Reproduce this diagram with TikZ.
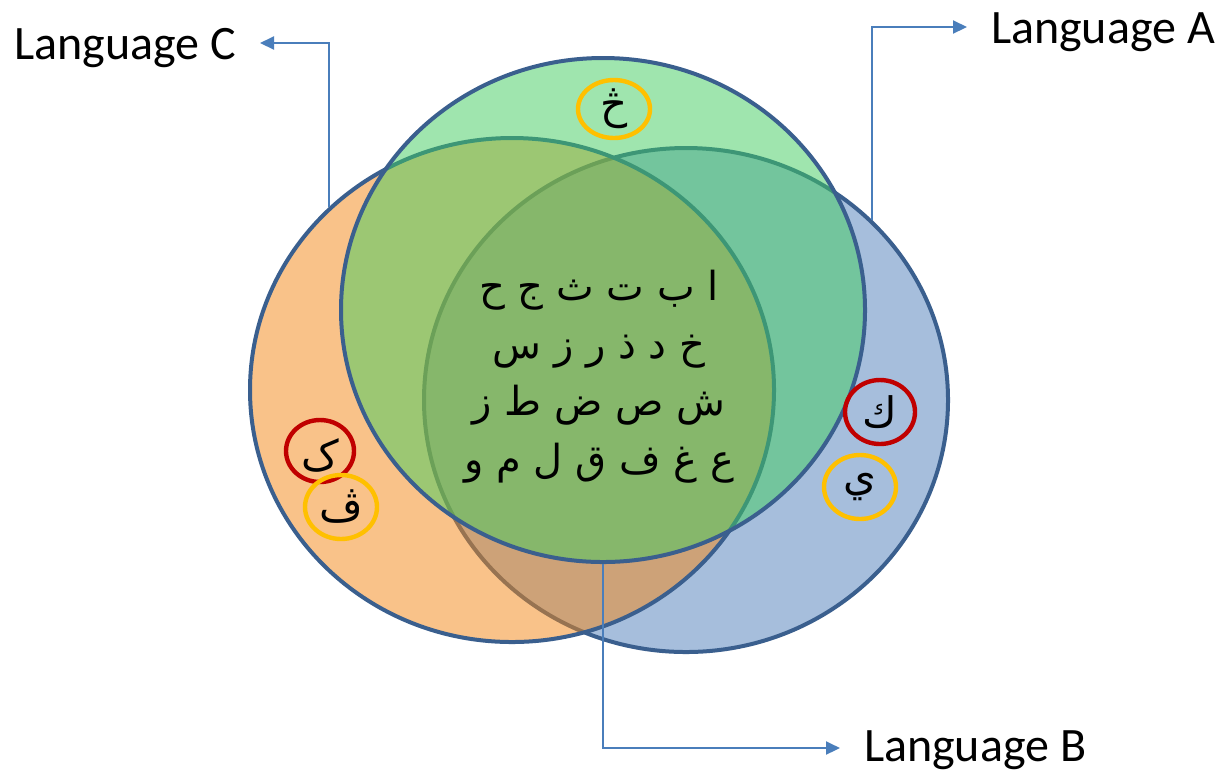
\documentclass[tikz,border=0pt]{standalone}
\usepackage{fontspec}
\usetikzlibrary{shapes.geometric,arrows.meta}
\TeXXeTstate=1
\newfontfamily\labelfont{Carlito}
\newfontfamily\arabicfont[Script=Arabic]{DejaVu Sans}
\definecolor{setblue}{RGB}{79,127,187}
\definecolor{setorange}{RGB}{245,135,21}
\definecolor{setgreen}{RGB}{65,205,95}
\definecolor{rimblue}{RGB}{58,95,142}
\definecolor{linkblue}{RGB}{74,126,187}
\definecolor{ringred}{RGB}{192,0,0}
\definecolor{ringyellow}{RGB}{255,192,0}
\begin{document}
\begin{tikzpicture}[x=0.5pt,y=-0.5pt,
  setshape/.style={ellipse, draw=rimblue, line width=2pt, fill opacity=0.5,
    inner sep=0pt, minimum width=262pt, minimum height=252pt},
  ring/.style={ellipse, line width=2.2pt, inner sep=0pt},
  glyph/.style={font=\arabicfont\fontsize{21}{24}\selectfont, inner sep=0pt},
  conn/.style={draw=linkblue, line width=1pt, -{Triangle[length=7pt,width=6.5pt]}},
  tag/.style={font=\labelfont\fontsize{24}{28}\selectfont, inner sep=0pt,
    outer xsep=12pt, text height=16pt, text depth=0pt},
  letters/.style={font=\arabicfont\fontsize{20}{24}\selectfont, inner sep=0pt, anchor=base}
]
\fill[white] (0,0) rectangle (1218,773);
\useasboundingbox (0,0) rectangle (1218,773);

% the three overlapping sets
\node[setshape, fill=setblue]   (langAset) at (686,400) {};
\node[setshape, fill=setorange] (langCset) at (512,390) {};
\node[setshape, fill=setgreen]  (langBset) at (603,310) {};

% letters shared by all three
\node[letters] (row1) at (599,300) {\beginR ا ب ت ث ج ح\endR};
\node[letters] (row2) at (599,358) {\beginR خ د ذ ر ز س\endR};
\node[letters] (row3) at (599,415) {\beginR ش ص ض ط ز\endR};
\node[letters] (row4) at (599,473) {\beginR ع غ ف ق ل م و\endR};

% rings marking letters particular to one language
\node[ring, draw=ringyellow, minimum width=36pt, minimum height=29pt] (ringTop) at (614,109) {};
\node[ring, draw=ringred, minimum width=34pt, minimum height=31pt] (ringLeftA) at (320,451) {};
\node[ring, draw=ringyellow, minimum width=36pt, minimum height=32pt] (ringLeftB) at (341,507) {};
\node[ring, draw=ringred, minimum width=35pt, minimum height=32pt] (ringRightA) at (880,412) {};
\node[ring, draw=ringyellow, minimum width=36pt, minimum height=32pt] (ringRightB) at (860,487) {};

\node[glyph] (chTop) at (ringTop) {\beginR څ\endR};
\node[glyph] (chLeftA) at (320,455) {\beginR ک\endR};
\node[glyph] (chLeftB) at (ringLeftB) {\beginR ڤ\endR};
\node[glyph] (chRightA) at (ringRightA) {\beginR ك\endR};
\node[glyph] (chRightB) at (ringRightB) {\beginR ي\endR};

% labels
\node[tag, anchor=west] (langA) at (967,27) {Language A};
\node[tag, anchor=west, text height=13pt] (langB) at (840,748) {Language B};
\node[tag, anchor=east] (langC) at (260,43) {Language C};

\draw[conn] (langAset.44.2) |- (langA);
\draw[conn] (langBset.south) |- (langB);
\draw[conn] (langCset.135.6) |- (langC);
\end{tikzpicture}
\end{document}
